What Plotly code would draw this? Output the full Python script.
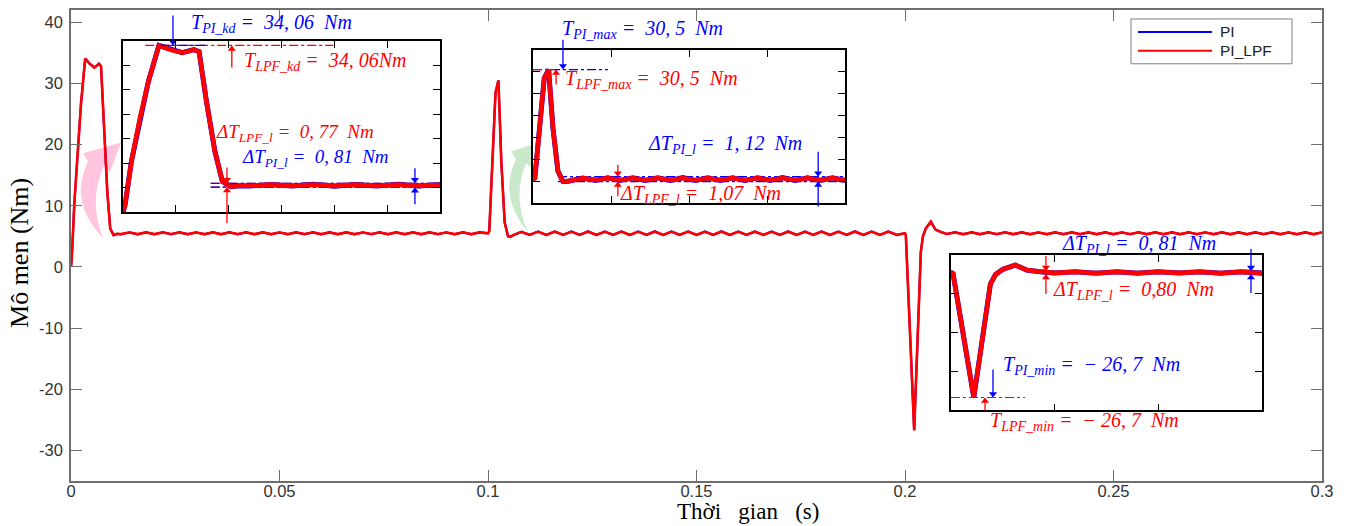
import plotly.graph_objects as go

# ---------------- data ----------------
series_names = ["PI", "PI_LPF"]

# start-up transient
t_start = [0, 0.0002, 0.0008, 0.0016, 0.0024, 0.0034, 0.0045, 0.0056, 0.0067, 0.0072, 0.0079, 0.0087, 0.0094, 0.0102, 0.011]
pi_start = [0, 1.5, 10.4, 19.2, 26.7, 34.06, 33.2, 32.6, 33.2, 32.8, 22.6, 12.4, 6.3, 5.2, 5.4]
lpf_start = [0, 1.5, 10.4, 19.2, 26.7, 34.06, 33.2, 32.6, 33.2, 32.8, 22.6, 12.4, 6.3, 5.2, 5.4]

# steady run 1
t_run1 = [0.012, 0.014, 0.016, 0.018, 0.020, 0.022, 0.024, 0.026, 0.028, 0.030,
          0.032, 0.034, 0.036, 0.038, 0.040, 0.042, 0.044, 0.046, 0.048, 0.050,
          0.052, 0.054, 0.056, 0.058, 0.060, 0.062, 0.064, 0.066, 0.068, 0.070,
          0.072, 0.074, 0.076, 0.078, 0.080, 0.082, 0.084, 0.086, 0.088, 0.090,
          0.092, 0.094, 0.096, 0.098]
pi_run1 = [5.33, 5.66, 5.32, 5.68, 5.31, 5.67, 5.33, 5.69, 5.32, 5.66,
           5.32, 5.68, 5.31, 5.67, 5.33, 5.68, 5.32, 5.69, 5.32, 5.66,
           5.31, 5.68, 5.33, 5.67, 5.32, 5.68, 5.32, 5.69, 5.31, 5.66,
           5.33, 5.68, 5.32, 5.67, 5.32, 5.69, 5.31, 5.68, 5.33, 5.66,
           5.32, 5.68, 5.32, 5.67]
lpf_run1 = [5.38, 5.62, 5.37, 5.63, 5.37, 5.62, 5.38, 5.63, 5.37, 5.61,
            5.37, 5.63, 5.36, 5.62, 5.38, 5.63, 5.37, 5.63, 5.37, 5.61,
            5.36, 5.63, 5.38, 5.62, 5.37, 5.63, 5.37, 5.63, 5.36, 5.61,
            5.38, 5.63, 5.37, 5.62, 5.37, 5.63, 5.36, 5.63, 5.38, 5.61,
            5.37, 5.63, 5.37, 5.62]

# load step at 0.1 s
t_load = [0.1, 0.1003, 0.1011, 0.1018, 0.1025, 0.1032, 0.104, 0.1048, 0.1055]
pi_load = [5.5, 5.8, 19.4, 28.5, 30.5, 17.1, 7.3, 5.0, 4.95]
lpf_load = [5.5, 5.8, 19.4, 28.5, 30.5, 17.1, 7.3, 5.0, 4.98]

# steady run 2
t_run2 = [0.106, 0.108, 0.110, 0.112, 0.114, 0.116, 0.118, 0.120, 0.122, 0.124,
          0.126, 0.128, 0.130, 0.132, 0.134, 0.136, 0.138, 0.140, 0.142, 0.144,
          0.146, 0.148, 0.150, 0.152, 0.154, 0.156, 0.158, 0.160, 0.162, 0.164,
          0.166, 0.168, 0.170, 0.172, 0.174, 0.176, 0.178, 0.180, 0.182, 0.184,
          0.186, 0.188, 0.190, 0.192, 0.194, 0.196, 0.198]
pi_run2 = [5.15, 5.75, 5.2, 5.8, 5.19, 5.81, 5.2, 5.8, 5.21, 5.82,
           5.19, 5.8, 5.2, 5.81, 5.19, 5.8, 5.21, 5.82, 5.19, 5.8,
           5.2, 5.81, 5.19, 5.8, 5.2, 5.82, 5.19, 5.8, 5.21, 5.81,
           5.19, 5.8, 5.2, 5.82, 5.19, 5.8, 5.2, 5.81, 5.19, 5.8,
           5.21, 5.82, 5.19, 5.8, 5.2, 5.81, 5.2]
lpf_run2 = [5.2, 5.7, 5.26, 5.74, 5.25, 5.75, 5.26, 5.74, 5.27, 5.75,
            5.25, 5.74, 5.26, 5.75, 5.25, 5.74, 5.27, 5.75, 5.25, 5.74,
            5.26, 5.75, 5.25, 5.74, 5.26, 5.75, 5.25, 5.74, 5.27, 5.75,
            5.25, 5.74, 5.26, 5.75, 5.25, 5.74, 5.26, 5.75, 5.25, 5.74,
            5.27, 5.75, 5.25, 5.74, 5.26, 5.75, 5.26]

# load removal at 0.2 s
t_unload = [0.2, 0.2002, 0.2022, 0.2038, 0.2043, 0.205, 0.2062, 0.2073, 0.2086]
pi_unload = [5.5, 5.2, -26.7, 2.5, 5.0, 6.3, 7.4, 6.1, 5.7]
lpf_unload = [5.5, 5.2, -26.7, 2.5, 5.0, 6.3, 7.4, 6.1, 5.7]

# steady run 3
t_run3 = [0.210, 0.212, 0.214, 0.216, 0.218, 0.220, 0.222, 0.224, 0.226, 0.228,
          0.230, 0.232, 0.234, 0.236, 0.238, 0.240, 0.242, 0.244, 0.246, 0.248,
          0.250, 0.252, 0.254, 0.256, 0.258, 0.260, 0.262, 0.264, 0.266, 0.268,
          0.270, 0.272, 0.274, 0.276, 0.278, 0.280, 0.282, 0.284, 0.286, 0.288,
          0.290, 0.292, 0.294, 0.296, 0.298, 0.300]
pi_run3 = [5.36, 5.67, 5.32, 5.68, 5.31, 5.67, 5.33, 5.68, 5.32, 5.69,
           5.32, 5.66, 5.31, 5.68, 5.33, 5.67, 5.32, 5.68, 5.32, 5.69,
           5.31, 5.66, 5.33, 5.68, 5.32, 5.67, 5.32, 5.69, 5.31, 5.68,
           5.33, 5.66, 5.32, 5.68, 5.32, 5.67, 5.31, 5.69, 5.33, 5.68,
           5.32, 5.66, 5.32, 5.68, 5.31, 5.67]
lpf_run3 = [5.39, 5.62, 5.37, 5.62, 5.37, 5.63, 5.38, 5.62, 5.37, 5.63,
            5.37, 5.62, 5.37, 5.63, 5.38, 5.62, 5.37, 5.63, 5.37, 5.63,
            5.37, 5.62, 5.38, 5.63, 5.37, 5.62, 5.37, 5.63, 5.37, 5.63,
            5.38, 5.62, 5.37, 5.63, 5.37, 5.62, 5.37, 5.63, 5.38, 5.63,
            5.37, 5.62, 5.37, 5.63, 5.37, 5.62]

x_tick_vals = [0, 0.05, 0.1, 0.15, 0.2, 0.25, 0.3]
x_tick_text = ["0", "0.05", "0.1", "0.15", "0.2", "0.25", "0.3"]
y_tick_vals = [-30, -20, -10, 0, 10, 20, 30, 40]
y_tick_text = ["-30", "-20", "-10", "0", "10", "20", "30", "40"]

# annotated values
T_kd = 34.06
T_max = 30.5
T_min = -26.7
T_ss = 5.5
dT_pi = [0.81, 1.12, 0.81]
dT_lpf = [0.77, 1.07, 0.80]

t = t_start + t_run1 + t_load + t_run2 + t_unload + t_run3
pi = pi_start + pi_run1 + pi_load + pi_run2 + pi_unload + pi_run3
lpf = lpf_start + lpf_run1 + lpf_load + lpf_run2 + lpf_unload + lpf_run3
assert len(t) == len(pi) == len(lpf)

# ---------------- layout geometry ----------------
W, H = 1351, 526
ML, MR, MT, MB = 71, 29, 8, 45
PW, PH = W - ML - MR, H - MT - MB


def fx(px):
    return (px - ML) / PW


def fy(py):
    return (H - MB - py) / PH


BLUE = "#0000ff"
RED = "#ff0000"
SERIF = "Liberation Serif, Times New Roman, serif"
SANS = "Arial, Liberation Sans, sans-serif"

fig = go.Figure()

# main traces
fig.add_trace(go.Scatter(x=t, y=pi, name=series_names[0], mode="lines",
                         line=dict(color=BLUE, width=2.2), xaxis="x", yaxis="y", showlegend=False))
fig.add_trace(go.Scatter(x=t, y=lpf, name=series_names[1], mode="lines",
                         line=dict(color=RED, width=2.6), xaxis="x", yaxis="y", showlegend=False))

# inset traces
for ax in ["2", "3", "4"]:
    fig.add_trace(go.Scatter(x=t, y=pi, mode="lines", showlegend=False, name=series_names[0],
                             line=dict(color=BLUE, width=5), xaxis="x" + ax, yaxis="y" + ax))
    fig.add_trace(go.Scatter(x=t, y=lpf, mode="lines", showlegend=False, name=series_names[1],
                             line=dict(color=RED, width=4.6), xaxis="x" + ax, yaxis="y" + ax))

main_axis = dict(showline=True, linecolor="#6e6e6e", linewidth=1.5, mirror="ticks",
                 ticks="inside", ticklen=11, tickcolor="#6e6e6e", tickwidth=1.3,
                 showgrid=False, zeroline=False,
                 tickfont=dict(family=SANS, size=16.5, color="#333333"))

inset_axis = dict(showline=True, linecolor="black", linewidth=1.5, mirror="ticks",
                  ticks="inside", ticklen=7, tickcolor="black", tickwidth=1.2,
                  showgrid=False, zeroline=False, showticklabels=False)

boxes = {"2": (123, 440, 39, 211), "3": (533, 845, 48, 202), "4": (951, 1262, 254, 410)}
inset_x = {"2": [0, 0.03], "3": [0.1, 0.15], "4": [0.2, 0.23]}
inset_y = {"2": [0, 35], "3": [0, 35], "4": [-30, 10]}
inset_ticks = {
    "2": dict(x=dict(dtick=0.005, tick0=0), y=dict(dtick=5, tick0=0)),
    "3": dict(x=dict(tickvals=[0.1125, 0.125, 0.1375]), y=dict(dtick=5, tick0=0)),
    "4": dict(x=dict(dtick=0.01, tick0=0.2), y=dict(dtick=10, tick0=-30)),
}

layout = dict(
    width=W, height=H, autosize=False,
    margin=dict(l=ML, r=MR, t=MT, b=MB),
    paper_bgcolor="white", plot_bgcolor="white",
    xaxis=dict(main_axis, range=[0, 0.3], tickvals=x_tick_vals, ticktext=x_tick_text, domain=[0, 1],
               ticklabelstandoff=-6),
    yaxis=dict(main_axis, range=[-35, 42], tickvals=y_tick_vals, ticktext=y_tick_text, domain=[0, 1],
               ticklabelstandoff=3),
    showlegend=False,
)
for ax, (x0, x1, y0, y1) in boxes.items():
    layout["xaxis" + ax] = dict(inset_axis, domain=[fx(x0), fx(x1)], anchor="y" + ax,
                                range=inset_x[ax], **inset_ticks[ax]["x"])
    layout["yaxis" + ax] = dict(inset_axis, domain=[fy(y1), fy(y0)], anchor="x" + ax,
                                range=inset_y[ax], **inset_ticks[ax]["y"])
fig.update_layout(**layout)


def inset_px(ax, x, y):
    """pixel position of a data point of an inset (for arrow tails outside the inset)."""
    x0, x1, y0, y1 = boxes[ax]
    xr, yr = inset_x[ax], inset_y[ax]
    px = x0 + (x - xr[0]) / (xr[1] - xr[0]) * (x1 - x0)
    py = y1 - (y - yr[0]) / (yr[1] - yr[0]) * (y1 - y0)
    return px, py


shapes = []
annotations = []


def curved_arrow(pts, color):
    path = "M {} {} Q {} {} {} {} L {} {} L {} {} L {} {} L {} {} Q {} {} {} {} Z"
    vals = []
    for (px, py) in pts:
        vals += [f"{fx(px):.4f}", f"{fy(py):.4f}"]
    shapes.append(dict(type="path", xref="paper", yref="paper", path=path.format(*vals),
                       fillcolor=color, line=dict(width=0), layer="below"))


curved_arrow([(103, 237), (68, 200), (88, 160), (83, 152), (121, 141), (110, 171), (104, 164), (88, 200), (103, 237)],
             "rgba(255,150,195,0.55)")
curved_arrow([(528, 231), (498, 195), (516, 158), (511, 150), (541, 140), (532, 167), (526, 162), (512, 196), (528, 231)],
             "rgba(150,210,150,0.5)")


def dashdot(ax, x0, x1, y, color, layer="above"):
    shapes.append(dict(type="line", xref="x" + ax, yref="y" + ax, x0=x0, x1=x1, y0=y, y1=y,
                       line=dict(color=color, width=1.2, dash="dashdot"), layer=layer))


# inset 1 reference lines
dashdot("2", 0.0021, 0.0199, T_kd, RED)
dashdot("2", 0.0035, 0.008, T_kd, BLUE)
for s in (1, -1):
    dashdot("2", 0.0083, 0.03, T_ss + s * dT_lpf[0] / 2, RED, "below")
    dashdot("2", 0.0083, 0.03, T_ss + s * dT_pi[0] / 2, BLUE, "below")
# inset 2 reference lines
dashdot("3", 0.1, 0.112, T_max, BLUE)
dashdot("3", 0.1, 0.1035, T_max, RED)
for s in (1, -1):
    dashdot("3", 0.104, 0.15, T_ss + s * dT_lpf[1] / 2, RED, "below")
    dashdot("3", 0.104, 0.15, T_ss + s * dT_pi[1] / 2, BLUE, "below")
# inset 3 reference lines
dashdot("4", 0.2, 0.2071, T_min, BLUE)
dashdot("4", 0.2, 0.2071, T_min, RED)

# legend box (drawn to match the long legend lines of the reference)
LEG = dict(x0=1131, x1=1292, y0=17, y1=62)
shapes.append(dict(type="rect", xref="paper", yref="paper", x0=fx(LEG["x0"]), x1=fx(LEG["x1"]),
                   y0=fy(LEG["y1"]), y1=fy(LEG["y0"]), line=dict(color="#808080", width=1),
                   fillcolor="white", layer="above"))
for name, color, py in [(series_names[0], BLUE, 30), (series_names[1], RED, 49)]:
    shapes.append(dict(type="line", xref="paper", yref="paper", x0=fx(1138), x1=fx(1212),
                       y0=fy(py), y1=fy(py), line=dict(color=color, width=2)))
    annotations.append(dict(xref="paper", yref="paper", x=fx(1218), y=fy(py), xanchor="left",
                            yanchor="middle", text=name, showarrow=False,
                            font=dict(family=SANS, size=15.5, color="#222222")))

# measurement arrows: a stem (paper shape) plus a triangular head (marker on the inset axes)
HEAD = 7
heads = {}


def arrow(ax, x, y, ay, color):
    hx, hy = inset_px(ax, x, y)
    direction = 1 if ay > 0 else -1           # +1: arrow points up, -1: points down
    shapes.append(dict(type="line", xref="paper", yref="paper",
                       x0=fx(hx), x1=fx(hx), y0=fy(hy + ay), y1=fy(hy + direction * HEAD * 0.5),
                       line=dict(color=color, width=1.3)))
    yr = inset_y[ax]
    units_per_px = (yr[1] - yr[0]) / (boxes[ax][3] - boxes[ax][2])
    key = (ax, color, direction)
    heads.setdefault(key, ([], []))
    heads[key][0].append(x)
    heads[key][1].append(y - direction * HEAD * 0.5 * units_per_px)


# inset 1 arrows
arrow("2", 0.00473, T_kd, -30, BLUE)
arrow("2", 0.0103, T_kd, 22, RED)
arrow("2", 0.00984, T_ss + dT_lpf[0] / 2, -16, RED)
arrow("2", 0.00984, T_ss - dT_lpf[0] / 2, 36, RED)
arrow("2", 0.02763, T_ss + dT_pi[0] / 2, -15, BLUE)
arrow("2", 0.02763, T_ss - dT_pi[0] / 2, 17, BLUE)
# inset 2 arrows
arrow("3", 0.1048, T_max, -30, BLUE)
arrow("3", 0.1037, T_max, 15, RED)
arrow("3", 0.1457, T_ss + dT_pi[1] / 2, -25, BLUE)
arrow("3", 0.1457, T_ss - dT_pi[1] / 2, 25, BLUE)
arrow("3", 0.1136, T_ss + dT_lpf[1] / 2, -12, RED)
arrow("3", 0.1136, T_ss - dT_lpf[1] / 2, 15, RED)
# inset 3 arrows
arrow("4", 0.22894, T_ss + dT_pi[2] / 2, -22, BLUE)
arrow("4", 0.22894, T_ss - dT_pi[2] / 2, 19, BLUE)
arrow("4", 0.20916, T_ss + dT_lpf[2] / 2, -15, RED)
arrow("4", 0.20916, T_ss - dT_lpf[2] / 2, 20, RED)
arrow("4", 0.20405, T_min, -28, BLUE)
arrow("4", 0.20328, T_min, 13, RED)

for (ax, color, direction), (xs, ys) in heads.items():
    fig.add_trace(go.Scatter(x=xs, y=ys, mode="markers", showlegend=False, hoverinfo="skip",
                             cliponaxis=False, xaxis="x" + ax, yaxis="y" + ax,
                             marker=dict(symbol="triangle-up" if direction > 0 else "triangle-down",
                                         size=HEAD, color=color, line=dict(width=0))))

fig.update_layout(shapes=shapes)

NB = "\u00a0"
EQ = NB + "=" + NB + NB


def label(px, py, text, color, size=20):
    annotations.append(dict(xref="paper", yref="paper", x=fx(px), y=fy(py), xanchor="left", yanchor="middle",
                            text=text, showarrow=False,
                            font=dict(family=SERIF, size=size, color=color)))


label(189, 22, f"<i>T<sub>PI_kd</sub>{EQ}34, 06{NB}{NB}Nm</i>", BLUE)
label(242, 60, f"<i>T<sub>LPF_kd</sub>{EQ}34, 06Nm</i>", RED)
label(214, 132, f"<i>ΔT<sub>LPF_l</sub>{EQ}0, 77{NB}{NB}Nm</i>", RED, 19)
label(240, 157, f"<i>ΔT<sub>PI_l</sub>{EQ}0, 81{NB}{NB}Nm</i>", BLUE, 19)
label(560, 28, f"<i>T<sub>PI_max</sub>{EQ}30, 5{NB}{NB}Nm</i>", BLUE)
label(563, 78, f"<i>T<sub>LPF_max</sub>{EQ}30, 5{NB}{NB}Nm</i>", RED)
label(646, 143, f"<i>ΔT<sub>PI_l</sub>{EQ}1, 12{NB}{NB}Nm</i>", BLUE)
label(618, 193, f"<i>ΔT<sub>LPF_l</sub>{EQ}1,07{NB}{NB}Nm</i>", RED)
label(1060, 243, f"<i>ΔT<sub>PI_l</sub>{EQ}0, 81{NB}{NB}Nm</i>", BLUE)
label(1051, 290, f"<i>ΔT<sub>LPF_l</sub>{EQ}0,80{NB}{NB}Nm</i>", RED)
label(1001, 365, f"<i>T<sub>PI_min</sub>{EQ}−{NB}26, 7{NB}{NB}Nm</i>", BLUE)
label(988, 421, f"<i>T<sub>LPF_min</sub>{EQ}−{NB}26, 7{NB}{NB}Nm</i>", RED)

# axis titles
GAP = NB * 3
annotations.append(dict(xref="paper", yref="paper", x=fx(748), y=fy(512), xanchor="center", yanchor="middle",
                        text="Thời" + GAP + "gian" + GAP + "(s)", showarrow=False,
                        font=dict(family=SERIF, size=23, color="black")))
annotations.append(dict(xref="paper", yref="paper", x=fx(20), y=fy(252), xanchor="center", yanchor="middle",
                        text="Mô men (Nm)", textangle=-90, showarrow=False,
                        font=dict(family=SERIF, size=26, color="black")))

fig.update_layout(annotations=annotations)

fig.write_html("out.html", config={"displayModeBar": False},
               post_script="document.body.style.margin='0';document.body.style.overflow='hidden';")
